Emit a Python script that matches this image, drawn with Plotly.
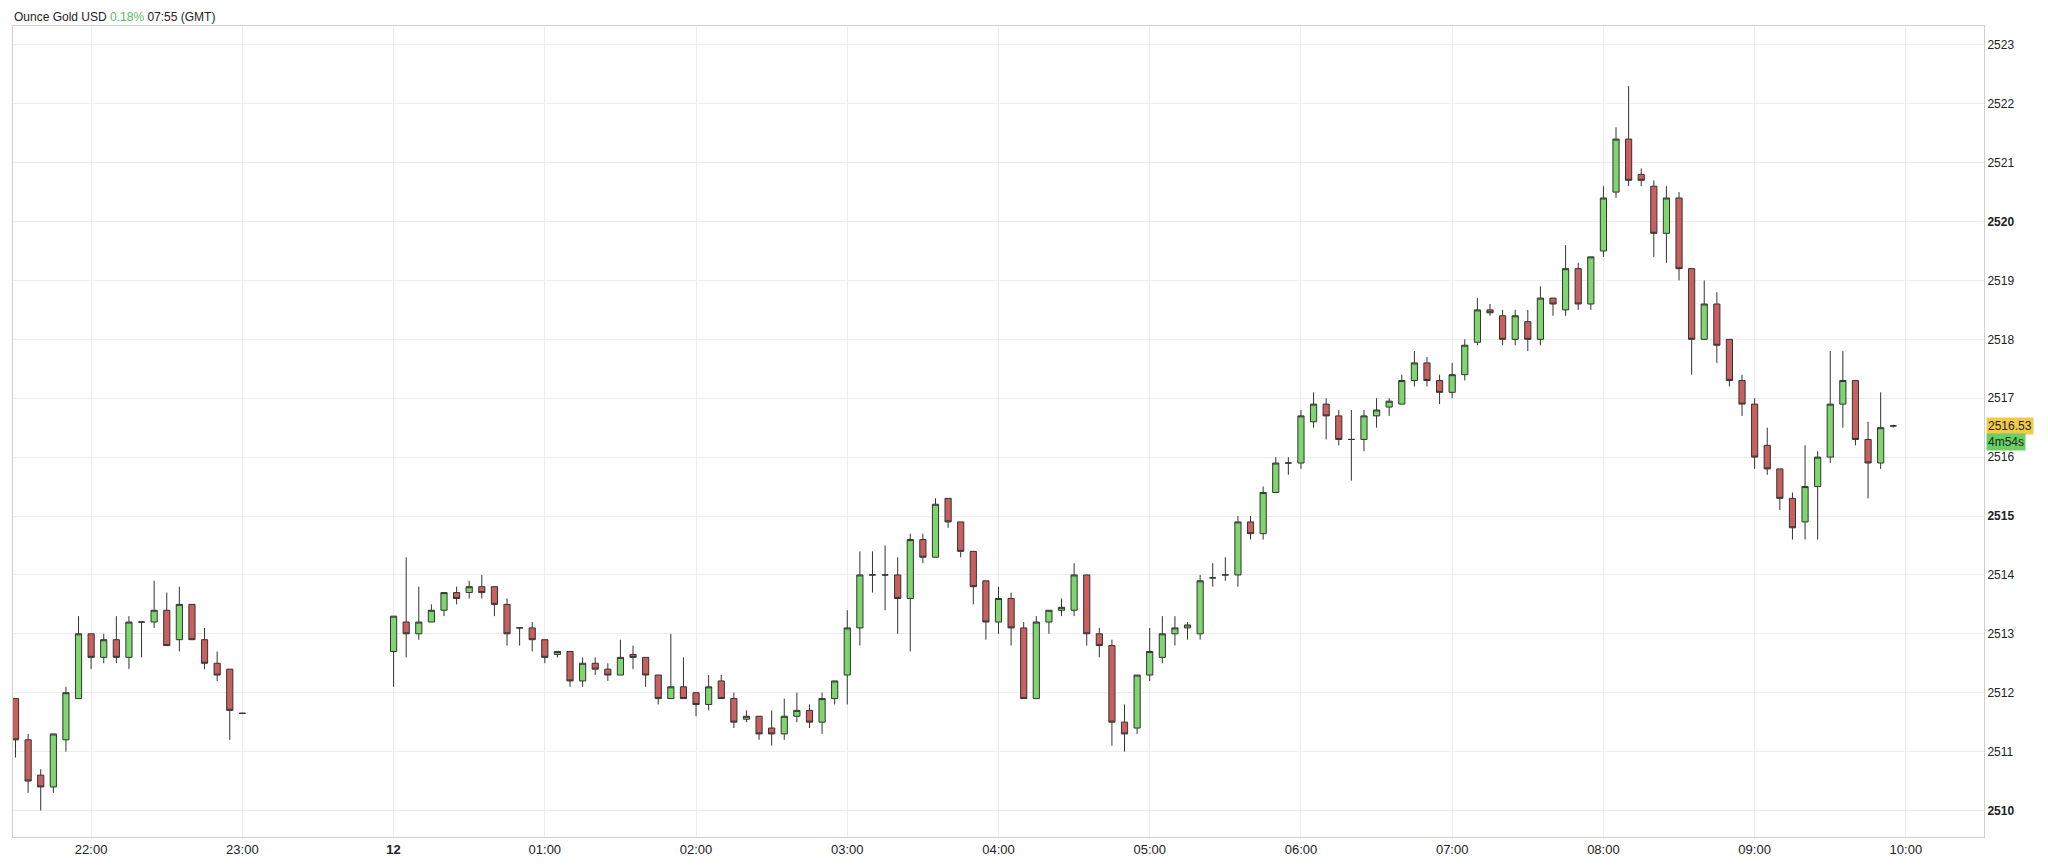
import plotly.graph_objects as go
import pandas as pd

# session 1: 21:30 .. 23:00 (11 Sep)
s1_open  = [2511.9,2511.2,2510.6,2510.4,2511.2,2511.9,2513.0,2512.6,2512.9,2512.6,2513.2,2513.2,2513.4,2512.9,2513.5,2512.9,2512.5,2512.4,2511.65]
s1_high  = [2511.9,2511.3,2510.7,2511.3,2512.1,2513.3,2513.0,2513.0,2513.3,2513.3,2513.2,2513.9,2513.7,2513.8,2513.5,2513.1,2512.7,2512.4,2511.66]
s1_low   = [2510.9,2510.3,2510.0,2510.3,2511.0,2511.9,2512.4,2512.5,2512.5,2512.4,2512.6,2513.1,2512.8,2512.7,2512.9,2512.4,2512.2,2511.2,2511.64]
s1_close = [2511.2,2510.5,2510.4,2511.3,2512.0,2513.0,2512.6,2512.9,2512.6,2513.2,2513.2,2513.4,2512.8,2513.5,2512.9,2512.5,2512.3,2511.7,2511.65]

# session 2: 00:00 .. 09:55 (12 Sep)
s2_open = [2512.7,2513.2,2513.0,2513.2,2513.4,2513.7,2513.7,2513.8,2513.8,2513.5,2513.1,2513.1,
           2512.9,2512.65,2512.7,2512.2,2512.5,2512.4,2512.3,2512.65,2512.6,2512.3,2511.9,2512.1,
           2512.0,2511.8,2512.2,2511.9,2511.55,2511.6,2511.4,2511.3,2511.6,2511.7,2511.5,2511.9,
           2512.3,2513.1,2514.0,2514.0,2514.0,2513.6,2514.6,2514.3,2515.3,2514.9,2514.4,2513.9,
           2513.2,2513.6,2513.1,2511.9,2513.2,2513.4,2513.4,2514.0,2513.0,2512.8,2511.5,2511.4,
           2512.3,2512.6,2513.0,2513.1,2513.0,2513.95,2514.0,2514.0,2514.9,2514.7,2515.4,2515.9,
           2515.9,2516.6,2516.9,2516.7,2516.3,2516.3,2516.7,2516.85,2516.9,2517.3,2517.6,2517.3,
           2517.1,2517.4,2517.95,2518.5,2518.4,2518.0,2518.3,2518.0,2518.7,2518.5,2519.2,2518.6,
           2519.5,2520.5,2521.4,2520.8,2520.6,2519.8,2520.4,2519.2,2518.0,2518.6,2518.0,2517.3,
           2516.9,2516.2,2515.8,2515.3,2514.9,2515.5,2516.0,2516.9,2517.3,2516.3,2515.9,2516.53]
s2_high = [2513.3,2514.3,2513.8,2513.5,2513.7,2513.8,2513.9,2514.0,2513.8,2513.6,2513.1,2513.2,
           2512.9,2512.7,2512.7,2512.6,2512.6,2512.5,2512.9,2512.8,2512.6,2512.3,2513.0,2512.6,
           2512.0,2512.3,2512.3,2512.0,2511.7,2511.6,2511.7,2511.9,2512.0,2511.8,2512.0,2512.2,
           2513.4,2514.4,2514.4,2514.5,2514.3,2514.7,2514.7,2515.3,2515.3,2514.9,2514.4,2513.9,
           2513.8,2513.7,2513.2,2513.3,2513.4,2513.6,2514.2,2514.0,2513.1,2512.9,2511.8,2512.3,
           2513.1,2513.3,2513.3,2513.2,2514.0,2514.2,2514.3,2515.0,2515.0,2515.5,2516.0,2516.0,
           2516.8,2517.1,2517.0,2516.8,2516.8,2516.8,2517.0,2517.0,2517.4,2517.8,2517.7,2517.4,
           2517.6,2518.0,2518.7,2518.6,2518.5,2518.5,2518.5,2518.9,2518.7,2519.6,2519.3,2519.4,
           2520.6,2521.6,2522.3,2520.9,2520.7,2520.6,2520.5,2519.2,2519.0,2518.8,2518.0,2517.4,
           2517.0,2516.5,2515.8,2515.4,2516.2,2516.1,2517.8,2517.8,2517.3,2516.6,2517.1,2516.55]
s2_low = [2512.1,2512.6,2512.9,2513.2,2513.3,2513.5,2513.6,2513.6,2513.3,2512.8,2512.8,2512.7,
          2512.5,2512.6,2512.1,2512.1,2512.3,2512.2,2512.3,2512.4,2512.1,2511.8,2511.9,2511.9,
          2511.6,2511.7,2511.9,2511.4,2511.5,2511.2,2511.1,2511.2,2511.5,2511.4,2511.3,2511.8,
          2511.8,2512.8,2513.7,2513.4,2513.0,2512.7,2514.2,2514.3,2514.8,2514.3,2513.5,2512.9,
          2513.0,2512.8,2511.9,2511.9,2513.0,2513.3,2513.3,2512.8,2512.6,2511.1,2511.0,2511.3,
          2512.2,2512.5,2512.8,2512.9,2512.9,2513.8,2513.9,2513.8,2514.6,2514.6,2515.4,2515.7,
          2515.8,2516.5,2516.3,2516.2,2515.6,2516.1,2516.5,2516.7,2516.9,2517.2,2517.2,2516.9,
          2517.0,2517.3,2517.9,2518.4,2517.9,2517.9,2517.8,2517.9,2518.4,2518.4,2518.5,2518.5,
          2519.4,2520.4,2520.6,2520.6,2519.4,2519.3,2519.0,2517.4,2518.0,2517.6,2517.2,2516.7,
          2515.8,2515.7,2515.1,2514.6,2514.6,2514.6,2515.9,2516.5,2516.2,2515.3,2515.8,2516.5]
s2_close = [2513.3,2513.0,2513.2,2513.4,2513.7,2513.6,2513.8,2513.7,2513.5,2513.0,2513.1,2512.9,
            2512.6,2512.7,2512.2,2512.5,2512.4,2512.3,2512.6,2512.6,2512.3,2511.9,2512.1,2511.9,
            2511.8,2512.1,2511.9,2511.5,2511.6,2511.3,2511.3,2511.6,2511.7,2511.5,2511.9,2512.2,
            2513.1,2514.0,2514.0,2514.0,2513.6,2514.6,2514.3,2515.2,2514.9,2514.4,2513.8,2513.2,
            2513.6,2513.1,2511.9,2513.2,2513.4,2513.45,2514.0,2513.0,2512.8,2511.5,2511.3,2512.3,
            2512.7,2513.0,2513.1,2513.15,2513.9,2513.95,2514.0,2514.9,2514.7,2515.4,2515.9,2515.9,
            2516.7,2516.9,2516.7,2516.3,2516.3,2516.7,2516.8,2516.95,2517.3,2517.6,2517.3,2517.1,
            2517.4,2517.9,2518.5,2518.45,2518.0,2518.4,2518.0,2518.7,2518.6,2519.2,2518.6,2519.4,
            2520.4,2521.4,2520.7,2520.7,2519.8,2520.4,2519.2,2518.0,2518.6,2517.9,2517.3,2516.9,
            2516.0,2515.8,2515.3,2514.8,2515.5,2516.0,2516.9,2517.3,2516.3,2515.9,2516.5,2516.53]

t1 = pd.date_range("2024-09-11 21:30", periods=len(s1_open), freq="5min")
t2 = pd.date_range("2024-09-12 00:00", periods=len(s2_open), freq="5min")
times = list(t1) + list(t2)
o = s1_open + s2_open; h = s1_high + s2_high; l = s1_low + s2_low; c = s1_close + s2_close

y_ticks = list(range(2510, 2524))
y_text = [f"<b>{v}</b>" if v % 5 == 0 else str(v) for v in y_ticks]
x_ticks = ["2024-09-11 22:00","2024-09-11 23:00","2024-09-12 00:00","2024-09-12 01:00","2024-09-12 02:00",
           "2024-09-12 03:00","2024-09-12 04:00","2024-09-12 05:00","2024-09-12 06:00","2024-09-12 07:00",
           "2024-09-12 08:00","2024-09-12 09:00","2024-09-12 10:00"]
x_text = ["22:00","23:00","<b>12</b>","01:00","02:00","03:00","04:00","05:00","06:00","07:00","08:00","09:00","10:00"]

fig = go.Figure(go.Candlestick(
    x=times, open=o, high=h, low=l, close=c,
    increasing=dict(fillcolor="#7ed66f", line=dict(color="#333333", width=1)),
    decreasing=dict(fillcolor="#c9605f", line=dict(color="#333333", width=1)),
    whiskerwidth=0, showlegend=False, hoverinfo="skip"))

fig.update_layout(
    width=2048, height=865, paper_bgcolor="white", plot_bgcolor="white",
    margin=dict(l=5, r=72, t=18, b=36),
    font=dict(family="Liberation Sans, Arial", size=13, color="#222"),
    xaxis=dict(type="date", range=["2024-09-11 21:29", "2024-09-12 10:31"], rangeslider=dict(visible=False),
               tickvals=x_ticks, ticktext=x_text, showgrid=True, gridcolor="#ececf2",
               showline=True, linecolor="#cfcfcf", mirror=True, ticks="", tickfont=dict(size=13)),
    yaxis=dict(side="right", range=[2509.55, 2523.32], tickvals=y_ticks, ticktext=y_text,
               showgrid=True, gridcolor="#ececf2", showline=True, linecolor="#cfcfcf", mirror=True,
               ticks="", tickfont=dict(size=12), zeroline=False),
    annotations=[
        dict(xref="paper", yref="paper", x=0, y=1, yshift=1, xanchor="left", yanchor="bottom", showarrow=False,
             text="Ounce Gold USD <span style='color:#5cb85c'>0.18%</span> 07:55 (GMT)", font=dict(size=12, color="#222"),
             borderpad=0),
        dict(xref="paper", yref="y", x=1, y=2516.53, xanchor="left", showarrow=False, xshift=2,
             text="2516.53", bgcolor="#f2c94c", font=dict(size=12, color="#222"), borderpad=1),
        dict(xref="paper", yref="y", x=1, y=2516.53, xanchor="left", showarrow=False, xshift=2, yshift=-16,
             text="4m54s", bgcolor="#6ccf62", font=dict(size=12, color="#222"), borderpad=1),
    ])

fig.write_html("out.html")
